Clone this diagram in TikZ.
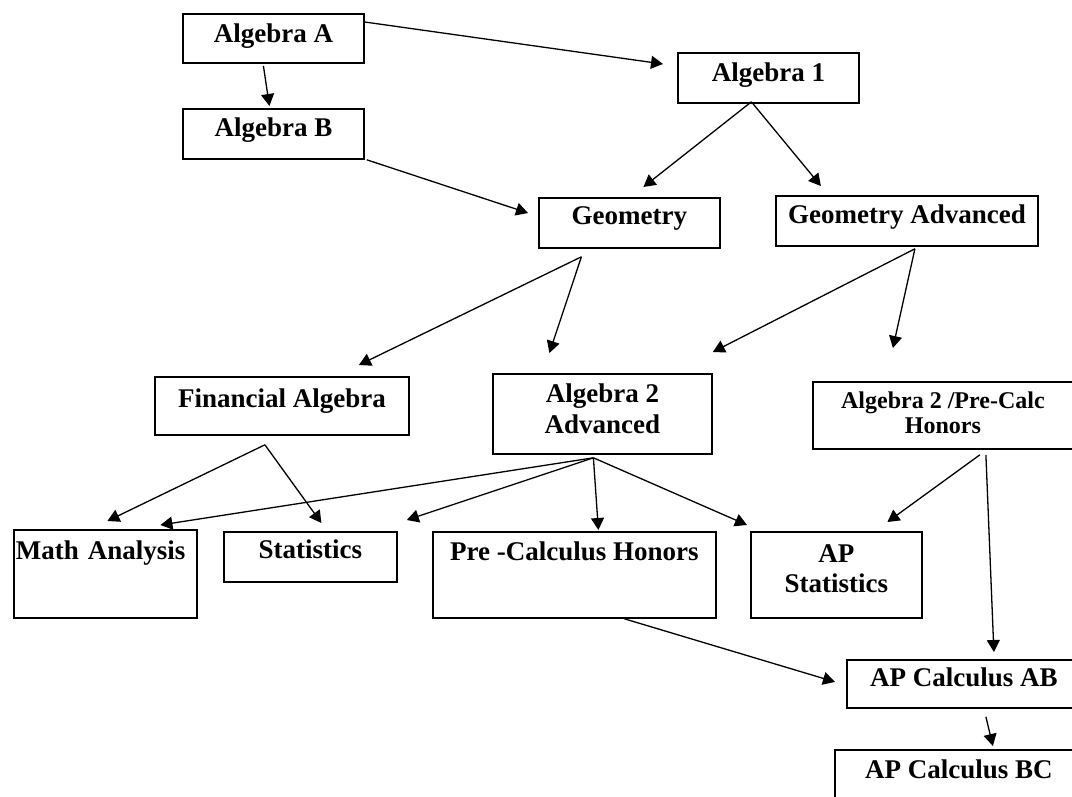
\documentclass[tikz,border=0pt]{standalone}
\usepackage{fontspec}
\setmainfont{Liberation Serif}
\usetikzlibrary{arrows.meta}

\begin{document}
\begin{tikzpicture}[x=1pt,y=-1pt,>={Triangle[length=12pt,width=13pt]},line width=1.3pt]
  \tikzstyle{course}=[draw,line width=1.8pt,inner sep=0pt,anchor=north west,font=\bfseries\fontsize{27}{31}\selectfont]
  \path[use as bounding box,clip] (0,0) rectangle (1072,796);

  \node[course,minimum width=181pt,text height=29pt,text depth=20pt] (algA)    at (182,13)  {Algebra A};
  \node[course,minimum width=181pt,text height=29pt,text depth=21pt] (alg1)    at (677,52)  {Algebra 1};
  \node[course,minimum width=181pt,text height=28pt,text depth=22pt] (algB)    at (182,108) {Algebra B};
  \node[course,minimum width=181pt,text height=27pt,text depth=23pt] (geom)    at (538,197) {Geometry};
  \node[course,minimum width=262pt,text height=28pt,text depth=22pt] (geomAdv) at (775,195) {Geometry Advanced};
  \node[course,minimum width=254pt,text height=31pt,text depth=27pt] (finAlg)  at (154,376) {Financial Algebra};
  \node[course,minimum width=219pt,text height=60pt,text depth=20pt,align=center] (alg2Adv) at (492,373) {Algebra 2\\Advanced};
  \node[course,minimum width=260pt,text height=52pt,text depth=15pt,align=center,font=\bfseries\fontsize{24}{25}\selectfont] (alg2Hon) at (812,381) {Algebra 2 /Pre-Calc\\Honors};
  \node[course,text width=179pt,inner xsep=2pt,align=left,text height=30pt,text depth=58pt] (mathAn) at (13,529) {Math Analysis};
  \node[course,minimum width=173pt,text height=27pt,text depth=23pt] (stats)   at (223,531) {Statistics};
  \node[course,minimum width=283pt,text height=29pt,text depth=57pt] (preCalc) at (432,531) {Pre -Calculus Honors};
  \node[course,minimum width=171pt,text height=61pt,text depth=25pt,align=center,font=\bfseries\fontsize{27}{30}\selectfont] (apStats) at (750,531) {AP\\Statistics};
  \node[course,minimum width=234pt,text height=27pt,text depth=21pt] (apAB)    at (846,659) {AP Calculus AB};
  \node[course,minimum width=248pt,text height=29pt,text depth=42pt] (apBC)    at (834,749) {AP Calculus BC};

  \path[->]
  ([yshift=-9pt]algA.north east)               edge ([xshift=-14pt,yshift=-12pt]alg1.north west)
  ([xshift=-10pt,yshift=-2pt]algA.south)       edge ([xshift=-4pt,yshift=2pt]algB.north)
  ([xshift=2pt]algB.south east)                edge ([xshift=-10pt,yshift=-16pt]geom.north west)
  ([xshift=-17pt,yshift=2pt]alg1.south)        edge ([xshift=14pt,yshift=10pt]geom.north)
  ([xshift=-17pt,yshift=2pt]alg1.south)        edge ([xshift=-86pt,yshift=9pt]geomAdv.north)
  ([xshift=-48pt,yshift=-8pt]geom.south)       edge ([xshift=77pt,yshift=11pt]finAlg.north)
  ([xshift=-48pt,yshift=-8pt]geom.south)       edge ([xshift=-53pt,yshift=20pt]alg2Adv.north)
  ([xshift=8pt,yshift=-2pt]geomAdv.south)      edge ([yshift=21pt]alg2Adv.north east)
  ([xshift=8pt,yshift=-2pt]geomAdv.south)      edge ([xshift=-50pt,yshift=33pt]alg2Hon.north)
  ([xshift=-17pt,yshift=-9pt]finAlg.south)     edge ([xshift=2pt,yshift=8pt]mathAn.north)
  ([xshift=-17pt,yshift=-9pt]finAlg.south)     edge ([xshift=11pt,yshift=8pt]stats.north)
  ([xshift=-9pt,yshift=-3pt]alg2Adv.south)     edge ([xshift=55pt,yshift=4pt]mathAn.north)
  ([xshift=-9pt,yshift=-3pt]alg2Adv.south)     edge ([xshift=9pt,yshift=11pt]stats.north east)
  ([xshift=-9pt,yshift=-3pt]alg2Adv.south)     edge ([xshift=24pt,yshift=1pt]preCalc.north)
  ([xshift=-9pt,yshift=-3pt]alg2Adv.south)     edge ([xshift=-3pt,yshift=6pt]apStats.north west)
  ([xshift=37pt,yshift=-5pt]alg2Hon.south)     edge ([xshift=51pt,yshift=9pt]apStats.north)
  ([xshift=43pt,yshift=-5pt]alg2Hon.south)     edge ([xshift=30pt,yshift=7pt]apAB.north)
  ([xshift=50pt]preCalc.south)                 edge ([xshift=-11pt,yshift=2pt]apAB.west)
  ([xshift=22pt,yshift=-8pt]apAB.south)        edge ([xshift=34pt,yshift=3pt]apBC.north)
  ;
\end{tikzpicture}
\end{document}
